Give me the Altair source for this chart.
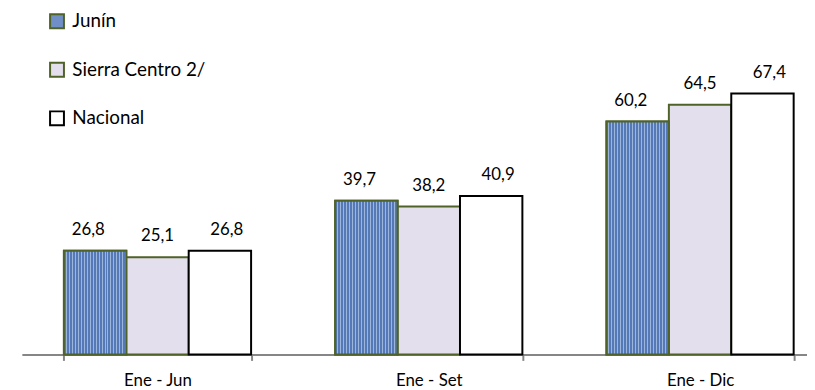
import altair as alt
import pandas as pd

periods = ["Ene - Jun", "Ene - Set", "Ene - Dic"]
series = ["Junín", "Sierra Centro 2/", "Nacional"]
junin = [26.8, 39.7, 60.2]
sierra = [25.1, 38.2, 64.5]
nacional = [26.8, 40.9, 67.4]

rows = []
for s, vals in zip(series, [junin, sierra, nacional]):
    for p, v in zip(periods, vals):
        rows.append({"period": p, "series": s, "value": v})
df = pd.DataFrame(rows)

FONT = "Lato"
fills = ["#6f8fc6", "#e4dfec", "#ffffff"]
strokes = ["#4f6228", "#4f6228", "#000000"]
label_dx = [-7, 0, 7]

x = alt.X(
    "period:N", sort=periods, title=None,
    scale=alt.Scale(domain=periods, range=[0, 822], paddingInner=0.31, paddingOuter=0.155),
    axis=alt.Axis(labelAngle=0, tickBand="extent", domainColor="#868686", domainWidth=2,
                  tickColor="#868686", tickWidth=2, tickSize=6, labelFont=FONT,
                  labelFontSize=17, labelColor="black", labelPadding=12, grid=False),
)
xo = alt.XOffset("series:N", sort=series,
                 scale=alt.Scale(domain=series, paddingInner=0, paddingOuter=0))
y = alt.Y("value:Q", scale=alt.Scale(domain=[0, 89], nice=False), axis=None)

leg = dict(orient="none", legendX=26, legendY=2, direction="vertical", symbolType="square",
           symbolSize=196, symbolStrokeWidth=2, labelFont=FONT, labelFontSize=19,
           labelColor="black", rowPadding=26, labelOffset=6, title=None, padding=0)

base = alt.Chart(df)
bars = base.mark_bar(strokeWidth=2).encode(
    x=x, xOffset=xo, y=y,
    fill=alt.Fill("series:N", sort=series, scale=alt.Scale(domain=series, range=fills),
                  legend=alt.Legend(**leg)),
    stroke=alt.Stroke("series:N", sort=series, scale=alt.Scale(domain=series, range=strokes),
                      legend=alt.Legend(**leg)),
)

dark, light = "#5479b6", "#9bb5dc"
stops = []
W = 63.0
for i in range(21):
    a, b, c = i * 3 / W, (i * 3 + 2) / W, min((i * 3 + 3) / W, 1.0)
    stops += [alt.GradientStop(color=dark, offset=a), alt.GradientStop(color=dark, offset=b),
              alt.GradientStop(color=light, offset=b), alt.GradientStop(color=light, offset=c)]
grad = alt.LinearGradient(gradient="linear", stops=stops, x1=0, x2=1, y1=0, y2=0)

overlay = base.transform_filter(alt.datum.series == series[0]).mark_bar(
    fill=grad, stroke="#4f6228", strokeWidth=2).encode(x=x, xOffset=xo, y=y)

texts = []
for s, d in zip(series, label_dx):
    texts.append(
        base.transform_filter(alt.datum.series == s)
        .transform_calculate(label="replace(format(datum.value, '.1f'), '.', ',')")
        .mark_text(baseline="alphabetic", dy=-16, dx=d, font=FONT, fontSize=17, color="black")
        .encode(x=x, xOffset=xo, y=y, text="label:N")
    )

chart = alt.layer(bars, overlay, *texts).properties(
    width=793, height=348,
    autosize=alt.AutoSizeParams(type="none"),
    padding={"left": 14, "top": 0, "right": 0, "bottom": 34},
).configure_view(stroke=None)

chart.save("out.html", embed_options={"renderer": "svg", "actions": False})
